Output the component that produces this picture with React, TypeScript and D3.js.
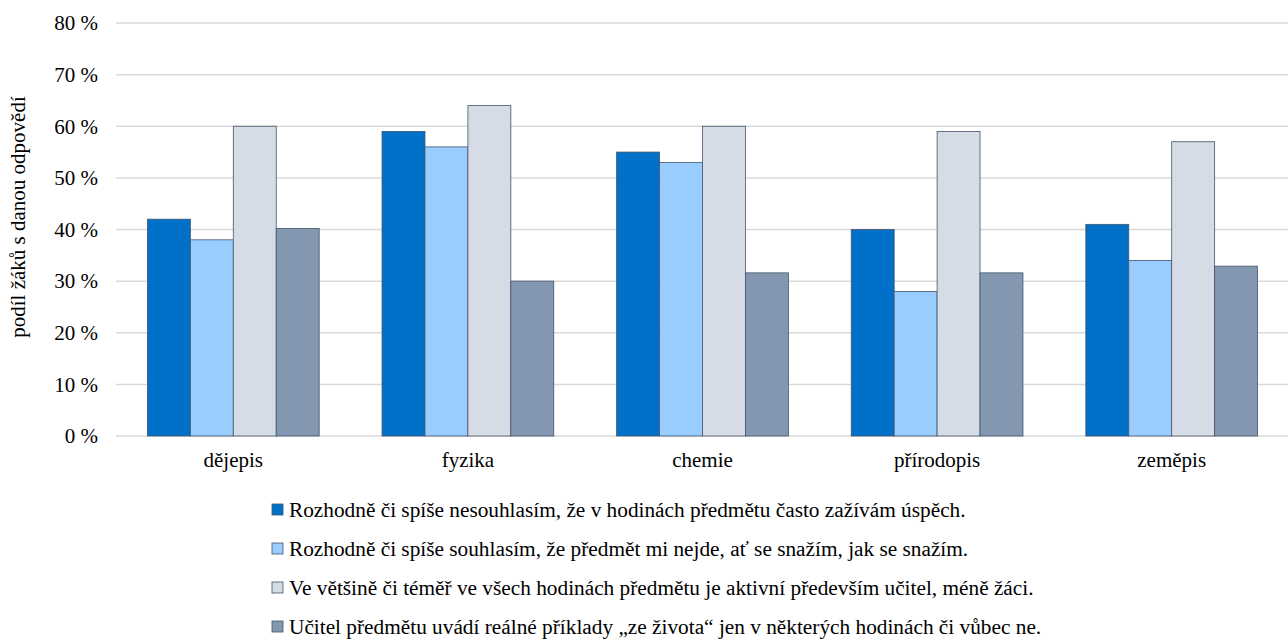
import { useEffect, useRef } from "react";
import * as d3 from "d3";

const categories = ["dějepis", "fyzika", "chemie", "přírodopis", "zeměpis"];
const seriesNames = [
  "Rozhodně či spíše nesouhlasím, že v hodinách předmětu často zažívám úspěch.",
  "Rozhodně či spíše souhlasím, že předmět mi nejde, ať se snažím, jak se snažím.",
  "Ve většině či téměř ve všech hodinách předmětu je aktivní především učitel, méně žáci.",
  "Učitel předmětu uvádí reálné příklady „ze života“ jen v některých hodinách či vůbec ne.",
];
const nesouhlasim = [42, 59, 55, 40, 41];
const nejde = [38, 56, 53, 28, 34];
const aktivniUcitel = [60, 64, 60, 59, 57];
const priklady = [40.2, 30, 31.6, 31.6, 32.9];
const yTicks = [0, 10, 20, 30, 40, 50, 60, 70, 80];
const colors = ["#0070C9", "#99CCFF", "#D6DCE5", "#8497B0"];

const W = 1288;
const H = 640;
const FONT = "'Liberation Serif', 'Times New Roman', serif";

export default function App() {
  const ref = useRef<SVGSVGElement>(null);

  useEffect(() => {
    if (!ref.current) return;
    const svg = d3.select(ref.current);
    svg.selectAll("*").remove();

    const series = [nesouhlasim, nejde, aktivniUcitel, priklady];
    const x0 = 116, x1 = 1289, yTop = 23, yBottom = 436;

    const x = d3.scaleBand().domain(categories).range([x0, x1]).paddingInner(0.268).paddingOuter(0.134);
    const xs = d3.scaleBand<number>().domain([0, 1, 2, 3]).range([0, x.bandwidth()]);
    const y = d3.scaleLinear().domain([0, 80]).range([yBottom, yTop]);

    svg
      .append("g")
      .selectAll("line")
      .data(yTicks)
      .join("line")
      .attr("x1", x0)
      .attr("x2", x1)
      .attr("y1", (d) => y(d))
      .attr("y2", (d) => y(d))
      .attr("stroke", "#d9d9d9")
      .attr("stroke-width", 1.5);

    svg
      .append("g")
      .selectAll("text")
      .data(yTicks)
      .join("text")
      .attr("x", 98)
      .attr("y", (d) => y(d))
      .attr("dy", "0.35em")
      .attr("text-anchor", "end")
      .style("font-family", FONT)
      .style("font-size", "21px")
      .attr("fill", "#000")
      .text((d) => `${d} %`);

    const groups = svg
      .append("g")
      .selectAll("g")
      .data(categories)
      .join("g")
      .attr("transform", (c) => `translate(${x(c)},0)`);

    groups
      .selectAll("rect")
      .data((_, i) => series.map((s, k) => ({ k, v: s[i] })))
      .join("rect")
      .attr("x", (d) => xs(d.k)!)
      .attr("width", xs.bandwidth())
      .attr("y", (d) => y(d.v))
      .attr("height", (d) => yBottom - y(d.v))
      .attr("fill", (d) => colors[d.k])
      .attr("stroke", "#44546A")
      .attr("stroke-width", 0.8);

    svg
      .append("g")
      .selectAll("text")
      .data(categories)
      .join("text")
      .attr("x", (c) => x(c)! + x.bandwidth() / 2)
      .attr("y", 467)
      .attr("text-anchor", "middle")
      .style("font-family", FONT)
      .style("font-size", "21px")
      .attr("fill", "#000")
      .text((c) => c);

    svg
      .append("text")
      .attr("transform", `translate(25,217) rotate(-90)`)
      .attr("text-anchor", "middle")
      .style("font-family", FONT)
      .style("font-size", "21px")
      .attr("fill", "#000")
      .text("podíl žáků s danou odpovědí");

    const legend = svg
      .append("g")
      .selectAll("g")
      .data(seriesNames)
      .join("g")
      .attr("transform", (_, i) => `translate(272,${510 + i * 39})`);

    legend
      .append("rect")
      .attr("x", 0)
      .attr("y", -6)
      .attr("width", 11)
      .attr("height", 11)
      .attr("fill", (_, i) => colors[i])
      .attr("stroke", "#44546A")
      .attr("stroke-width", 0.8);

    legend
      .append("text")
      .attr("x", 17)
      .attr("y", 0)
      .attr("dy", "0.35em")
      .style("font-family", FONT)
      .style("font-size", "21.3px")
      .attr("fill", "#000")
      .text((d) => d);
  }, []);

  return (
    <svg
      ref={ref}
      width={W}
      height={H}
      style={{ position: "absolute", left: 0, top: 0, background: "#fff" }}
    />
  );
}
